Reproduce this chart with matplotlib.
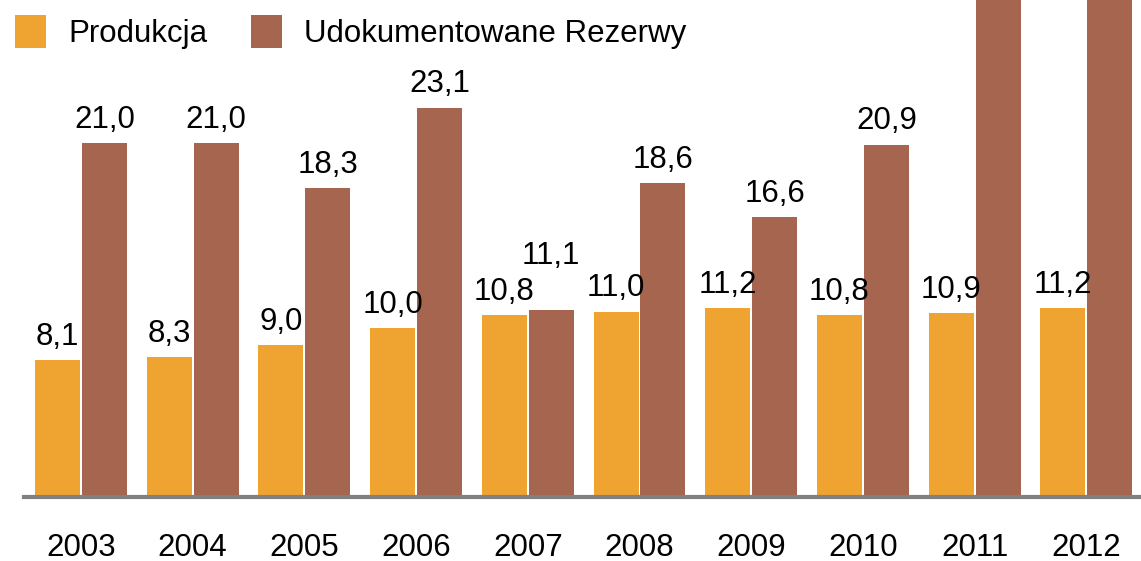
import matplotlib.pyplot as plt
import numpy as np

# data
years = ["2003", "2004", "2005", "2006", "2007", "2008", "2009", "2010", "2011", "2012"]
produkcja = [8.1, 8.3, 9.0, 10.0, 10.8, 11.0, 11.2, 10.8, 10.9, 11.2]
rezerwy = [21.0, 21.0, 18.3, 23.1, 11.1, 18.6, 16.6, 20.9, 32.0, 33.0]  # last two run off the top

plt.rcParams['font.family'] = ['Liberation Sans', 'DejaVu Sans']

orange = "#EFA330"
brown = "#A5654F"
fs = 22.5

fig = plt.figure(figsize=(11.41, 5.61), dpi=100)
ax = fig.add_axes([0, 0.114, 1, 0.886])

x = np.arange(len(years))
w = 0.403
off = 0.21

b1 = ax.bar(x - off, produkcja, w, color=orange, label="Produkcja")
b2 = ax.bar(x + off, rezerwy, w, color=brown, label="Udokumentowane Rezerwy")

# value labels with comma decimals
for i, (bar, v) in enumerate(zip(b1, produkcja)):
    ax.annotate(f"{v:.1f}".replace(".", ","),
                (bar.get_x() + bar.get_width() / 2, v),
                xytext=(0, 6), textcoords="offset points",
                ha="center", va="bottom", fontsize=fs, annotation_clip=True)
for i, (bar, v) in enumerate(zip(b2, rezerwy)):
    # 2007 label lifted so it doesn't collide with the orange one
    dy = 28 if years[i] == "2007" else 6
    ax.annotate(f"{v:.1f}".replace(".", ","),
                (bar.get_x() + bar.get_width() / 2, v),
                xytext=(0, dy), textcoords="offset points",
                ha="center", va="bottom", fontsize=fs, annotation_clip=True)

ax.set_xlim(-0.725, 9.49)
ax.set_ylim(0, 29.48)

for s in ["top", "left", "right"]:
    ax.spines[s].set_visible(False)
ax.spines['bottom'].set_color("#808080")
ax.spines['bottom'].set_linewidth(3)
ax.spines['bottom'].set_bounds(-0.51, 9.49)

ax.set_yticks([])
ax.set_xticks(x)
ax.set_xticklabels(years, fontsize=fs)
ax.tick_params(axis='x', length=0, pad=26)

ax.legend(loc="upper left", bbox_to_anchor=(-0.006, 1.012), bbox_transform=fig.transFigure,
          ncol=2, frameon=False, fontsize=fs, handlelength=1.0, handleheight=1.25,
          handletextpad=0.7, columnspacing=1.4, borderaxespad=0.3)

fig.savefig("out.png", dpi=100)
